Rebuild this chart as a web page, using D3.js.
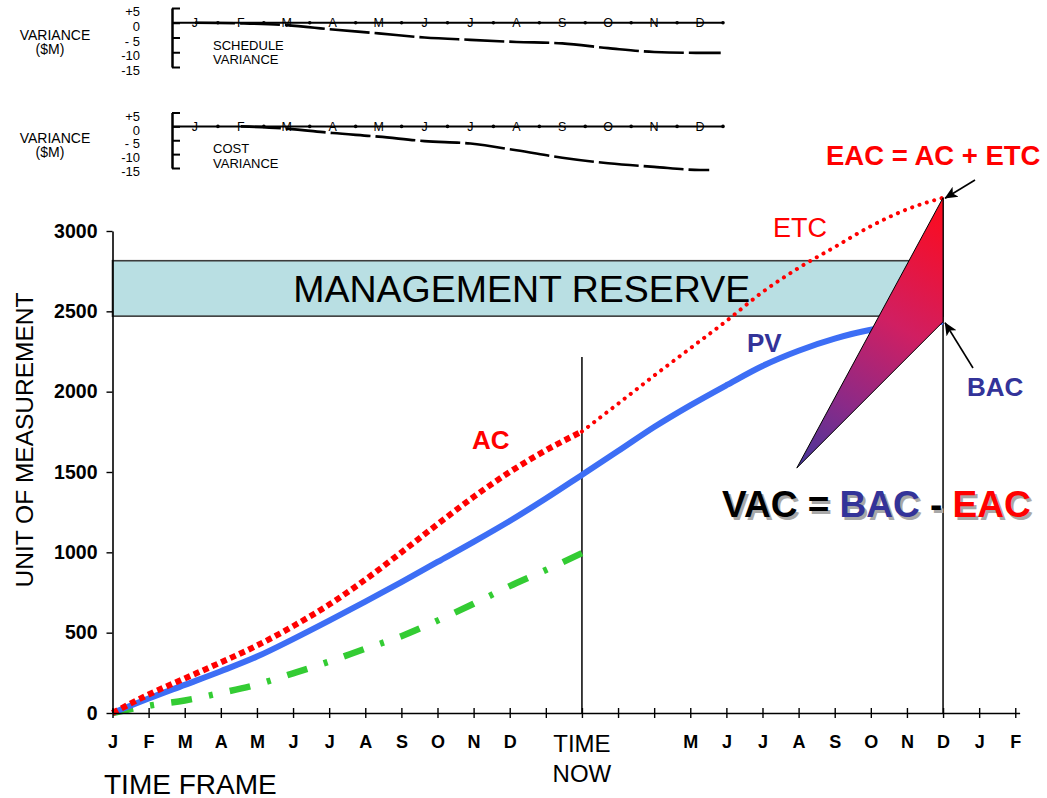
<!DOCTYPE html>
<html><head><meta charset="utf-8">
<script src="https://cdn.jsdelivr.net/npm/d3@7"></script>
<style>
body{margin:0;background:#fff;}
svg{display:block;font-family:Arial,"Liberation Sans",Helvetica,sans-serif;}
</style></head><body>
<svg id="c" width="1047" height="798"></svg>
<script>
// ---------- DATA ----------
const months = ["J","F","M","A","M","J","J","A","S","O","N","D"];
const varianceTicks = [5,0,-5,-10,-15];
const varianceTickLabels = ["+5","0","- 5","-10","-15"];
const scheduleVariance = [0,-0.2,-0.8,-2.3,-3.6,-5.0,-5.8,-6.5,-7.0,-8.6,-9.9,-10.2];
const costVariance = [null,0,-0.8,-2.4,-3.7,-5.3,-6.2,-8.6,-11.3,-13.3,-14.6,-15.7];

const timeLabels = ["J","F","M","A","M","J","J","A","S","O","N","D","","","","","M","J","J","A","S","O","N","D","J","F"];
const valueTicks = [0,500,1000,1500,2000,2500,3000];
const pv  = [0,90,175,260,351,460,575,693,815,940,1065,1195,1335,1482,1630,1780,1915,2040,2160,2255,2330,2385,2415,2435];
const ac  = [0,115,215,315,420,540,675,830,1000,1175,1345,1500,1635,1752];
const etc = [1752,1925,2100,2270,2440,2620,2770,2900,3030,3135,3207]; // from TIME NOW (index 13) to D (index 23)
const ev  = [0,45,78,125,177,247,320,400,478,575,680,790,890,995];
const reserve = [2470, 2815];
const timeNowIndex = 13, completionIndex = 23;
const bac = 2435, eac = 3207;
const vacPointer = {i: 18.95, v: 1525};
const timeNowTop = 2215;

// ---------- SETUP ----------
const svg = d3.select("#c");
const defs = svg.append("defs");
defs.append("marker").attr("id","arrow").attr("viewBox","0 0 10 10")
  .attr("refX",9.5).attr("refY",5).attr("markerWidth",13).attr("markerHeight",13)
  .attr("markerUnits","userSpaceOnUse").attr("orient","auto")
  .append("path").attr("d","M0,0.5 L10,5 L0,9.5 L2.5,5 Z").attr("fill","#000");
const grad = defs.append("linearGradient").attr("id","vacGrad").attr("gradientUnits","userSpaceOnUse");

// ---------- VARIANCE PANELS ----------
function variancePanel(top, bottom, values, endIndex, lbl1, lbl2) {
  const xm = d3.scaleLinear().domain([-0.5,11.5]).range([172,723]);
  const yv = d3.scaleLinear().domain([5,-15]).range([top,bottom]);
  const g = svg.append("g");
  const ax = d3.axisLeft(yv).tickValues(varianceTicks).tickSizeInner(-8).tickSizeOuter(0)
    .tickPadding(32).tickFormat((d,i)=>varianceTickLabels[i]);
  const ag = g.append("g").attr("transform","translate(172,0)").call(ax);
  ag.select(".domain").attr("stroke","#000").attr("stroke-width",2.5);
  ag.selectAll(".tick line").attr("stroke","#000").attr("stroke-width",2);
  ag.selectAll("text").attr("font-size",13).attr("fill","#000").attr("y",3.5).attr("font-family","Arial, 'Liberation Sans', sans-serif");
  g.append("line").attr("x1",xm(-0.5)).attr("x2",xm(11.5)).attr("y1",yv(0)).attr("y2",yv(0))
    .attr("stroke","#000").attr("stroke-width",2);
  g.selectAll(".mdot").data(months).join("circle").attr("cx",(d,i)=>xm(i+0.5)).attr("cy",yv(0)).attr("r",1.8).attr("fill","#000");
  g.selectAll(".mlab").data(months).join("text").attr("x",(d,i)=>xm(i)).attr("y",yv(0)+4.5)
    .attr("text-anchor","middle").attr("font-size",12.5).text(d=>d);
  const pts = values.map((v,i)=>[i,v]).filter(p=>p[1]!=null);
  pts.push([endIndex, values[values.length-1]]);
  g.append("path").datum(pts).attr("fill","none").attr("stroke","#000").attr("stroke-width",2.6)
    .attr("stroke-dasharray","40,5")
    .attr("d", d3.line().x(p=>xm(p[0])).y(p=>yv(p[1])).curve(d3.curveMonotoneX));
  const zt = yv(0);
  g.append("text").attr("x",55).attr("y",zt+17).attr("text-anchor","middle").attr("font-size",14).text("VARIANCE");
  g.append("text").attr("x",50).attr("y",zt+31).attr("text-anchor","middle").attr("font-size",14).text("($M)");
  g.append("text").attr("x",213).attr("y",zt+27).attr("font-size",13).text(lbl1);
  g.append("text").attr("x",213).attr("y",zt+41.5).attr("font-size",13).text(lbl2);
}
variancePanel(8, 67, scheduleVariance, 11.45, "SCHEDULE", "VARIANCE");
variancePanel(112.5, 168, costVariance, 11.2, "COST", "VARIANCE");

// ---------- MAIN CHART ----------
const x = d3.scaleLinear().domain([0,25.12]).range([112.5,1019.6]);
const y = d3.scaleLinear().domain([0,3000]).range([713,231]);

svg.append("rect").attr("x",x(0)).attr("y",y(reserve[1]))
  .attr("width",x(completionIndex)-x(0)).attr("height",y(reserve[0])-y(reserve[1]))
  .attr("fill","#b9dfe3").attr("stroke","#3c3c3c").attr("stroke-width",1.6);
svg.append("text").attr("x",(x(0)+x(completionIndex))/2-6).attr("y",(y(reserve[0])+y(reserve[1]))/2+13.5)
  .attr("text-anchor","middle").attr("font-size",37.5).attr("fill","#000").text("MANAGEMENT RESERVE");

svg.append("line").attr("x1",x(timeNowIndex)).attr("x2",x(timeNowIndex)).attr("y1",y(timeNowTop)).attr("y2",y(0))
  .attr("stroke","#000").attr("stroke-width",1.5);
svg.append("line").attr("x1",x(completionIndex)).attr("x2",x(completionIndex)).attr("y1",y(eac)).attr("y2",y(0))
  .attr("stroke","#000").attr("stroke-width",1.5);

const line = d3.line().x(p=>x(p[0])).y(p=>y(p[1])).curve(d3.curveMonotoneX);
// EV: dash-dot pattern stretched so it starts and ends on a long dash
const evPath = svg.append("path").datum(ev.map((v,i)=>[i,v])).attr("fill","none").attr("stroke","#33cc33")
  .attr("stroke-width",6.5).attr("d",line);
const evLen = evPath.node().getTotalLength();
const nPer = Math.max(1, Math.round((evLen-21)/57));
const per = (evLen-21)/nPer, gap = (per-25)/2;
evPath.attr("stroke-dasharray", `21,${gap},4,${gap}`);
// PV
svg.append("path").datum(pv.map((v,i)=>[i,v])).attr("fill","none").attr("stroke","#3d6ef5")
  .attr("stroke-width",6).attr("d",line);
// AC
svg.append("path").datum(ac.map((v,i)=>[i,v])).attr("fill","none").attr("stroke","#ff0000")
  .attr("stroke-width",6).attr("stroke-dasharray","6,4").attr("d",line);
// ETC
svg.append("path").datum(etc.map((v,i)=>[i+timeNowIndex,v])).attr("fill","none").attr("stroke","#ff0000")
  .attr("stroke-width",4).attr("stroke-linecap","round").attr("stroke-dasharray","0.1,7.6").attr("d",line);

// VAC triangle
const tri = [[completionIndex,eac],[completionIndex,bac],[vacPointer.i,vacPointer.v]];
grad.attr("x1",x(completionIndex)).attr("y1",y(eac)).attr("x2",x(vacPointer.i)-20).attr("y2",y(vacPointer.v));
grad.append("stop").attr("offset","0").attr("stop-color","#ff0a1a");
grad.append("stop").attr("offset","0.42").attr("stop-color","#d01f62");
grad.append("stop").attr("offset","0.72").attr("stop-color","#8a2a88");
grad.append("stop").attr("offset","1").attr("stop-color","#3b3a9e");
svg.append("path").datum(tri).attr("fill","url(#vacGrad)").attr("stroke","#000").attr("stroke-width",1)
  .attr("d", d3.line().x(p=>x(p[0])).y(p=>y(p[1])).curve(d3.curveLinearClosed));

svg.append("line").attr("x1",975).attr("y1",180).attr("x2",x(completionIndex)+2).attr("y2",y(eac)+0.5)
  .attr("stroke","#000").attr("stroke-width",1.6).attr("marker-end","url(#arrow)");
svg.append("line").attr("x1",973).attr("y1",368).attr("x2",x(completionIndex)+2).attr("y2",y(bac)+1)
  .attr("stroke","#000").attr("stroke-width",1.6).attr("marker-end","url(#arrow)");

// axes
const xa = svg.append("g").attr("transform",`translate(0,${y(0)})`)
  .call(d3.axisBottom(x).tickValues(d3.range(26)).tickSize(5).tickSizeOuter(0).tickPadding(17).tickFormat(i=>timeLabels[i]));
xa.select(".domain").attr("stroke","#000").attr("stroke-width",1.6);
xa.selectAll(".tick line").attr("y1",-5).attr("y2",5).attr("stroke","#000").attr("stroke-width",1.4);
xa.selectAll("text").attr("font-size",18).attr("font-weight","bold").attr("fill","#000").attr("font-family","Arial, 'Liberation Sans', sans-serif");

const ya = svg.append("g").attr("transform",`translate(${x(0)},0)`)
  .call(d3.axisLeft(y).tickValues(valueTicks).tickSize(6).tickSizeOuter(0).tickPadding(9).tickFormat(d3.format("d")));
ya.select(".domain").attr("stroke","#000").attr("stroke-width",1.6);
ya.selectAll(".tick line").attr("stroke","#000").attr("stroke-width",1.4);
ya.selectAll("text").attr("font-size",19.5).attr("font-weight","bold").attr("fill","#000").attr("font-family","Arial, 'Liberation Sans', sans-serif");

svg.append("text").attr("transform","translate(33,440) rotate(-90)").attr("text-anchor","middle")
  .attr("font-size",24.5).text("UNIT OF MEASUREMENT");
svg.append("text").attr("x",104).attr("y",794).attr("font-size",28).text("TIME FRAME");
svg.append("text").attr("x",x(timeNowIndex)).attr("y",752).attr("text-anchor","middle").attr("font-size",24).text("TIME");
svg.append("text").attr("x",x(timeNowIndex)).attr("y",782).attr("text-anchor","middle").attr("font-size",24).text("NOW");

svg.append("text").attr("x",826).attr("y",165).attr("font-size",27.5).attr("font-weight","bold").attr("fill","#ff0000").text("EAC = AC + ETC");
svg.append("text").attr("x",773).attr("y",237).attr("font-size",27).attr("fill","#ff0000").text("ETC");
svg.append("text").attr("x",472).attr("y",449).attr("font-size",26).attr("font-weight","bold").attr("fill","#ff0000").text("AC");
svg.append("text").attr("x",747).attr("y",352).attr("font-size",26).attr("font-weight","bold").attr("fill","#333399").text("PV");
svg.append("text").attr("x",967).attr("y",396).attr("font-size",26).attr("font-weight","bold").attr("fill","#333399").text("BAC");

function vac(g, dx, dy, shadow) {
  const t = g.append("text").attr("x",722+dx).attr("y",517+dy).attr("font-size",37).attr("font-weight","bold");
  const parts = [["VAC = ","#000"],["BAC","#333399"],[" - ","#000"],["EAC","#ff0000"]];
  parts.forEach(p=>t.append("tspan").attr("fill", shadow ? "#a8a8a8" : p[1]).text(p[0]));
}
vac(svg, 2.5, 2.5, true);
vac(svg, 0, 0, false);
</script>
</body></html>
